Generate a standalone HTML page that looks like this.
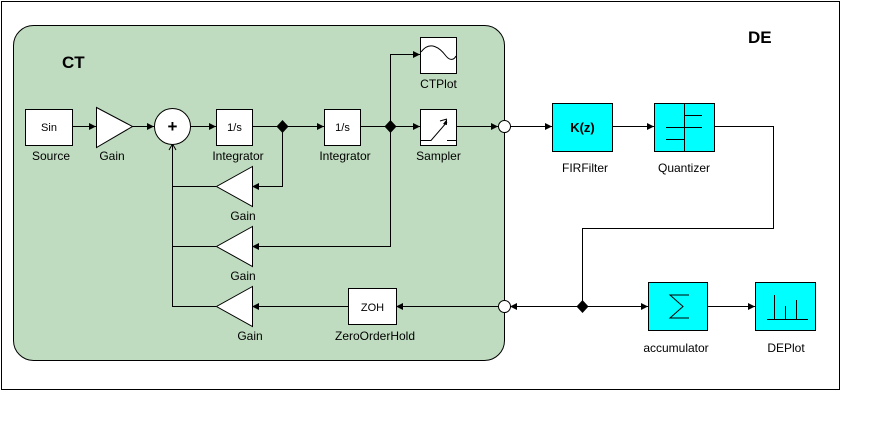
<!DOCTYPE html>
<html><head><style>
html,body{margin:0;padding:0;background:#fff;}
svg{display:block;}
text{font-family:"Liberation Sans",sans-serif;font-size:12px;fill:#000;}
</style></head><body>
<svg width="879" height="432" viewBox="0 0 879 432" xmlns="http://www.w3.org/2000/svg">
<defs>
<marker id="a" markerWidth="8" markerHeight="8" refX="7" refY="4" orient="auto" markerUnits="userSpaceOnUse">
<path d="M0,0.5 L7,4 L0,7.5 z" fill="#000"/></marker>
</defs>
<rect x="1.5" y="1.5" width="838" height="388" fill="#fff" stroke="#000"/>
<rect x="13.5" y="25.5" width="491" height="335" rx="20" fill="#c0dcc0" stroke="#000"/>
<text x="62" y="68" style="font-size:17px;font-weight:bold">CT</text>
<text x="748" y="43" style="font-size:17px;font-weight:bold">DE</text>
<g stroke="#000" fill="none" stroke-width="1">
<!-- main chain -->
<line x1="72" y1="126.5" x2="96" y2="126.5" marker-end="url(#a)"/>
<line x1="132" y1="126.5" x2="154" y2="126.5" marker-end="url(#a)"/>
<line x1="190" y1="126.5" x2="216" y2="126.5" marker-end="url(#a)"/>
<line x1="252" y1="126.5" x2="324" y2="126.5" marker-end="url(#a)"/>
<line x1="360" y1="126.5" x2="420" y2="126.5" marker-end="url(#a)"/>
<line x1="456" y1="126.5" x2="498" y2="126.5" marker-end="url(#a)"/>
<polyline points="390.5,126 390.5,54.5 420,54.5" marker-end="url(#a)"/>
<polyline points="282.5,126 282.5,186.5 252,186.5" marker-end="url(#a)"/>
<polyline points="390.5,126 390.5,246.5 252,246.5" marker-end="url(#a)"/>
<line x1="498" y1="306.5" x2="396" y2="306.5" marker-end="url(#a)"/>
<line x1="348" y1="306.5" x2="252" y2="306.5" marker-end="url(#a)"/>
<polyline points="216,186.5 172.5,186.5"/>
<polyline points="216,246.5 172.5,246.5"/>
<polyline points="216,306.5 172.5,306.5 172.5,144"/>
<path d="M169,150 L172.5,144 L176,150"/>
<!-- DE -->
<line x1="510" y1="126.5" x2="552" y2="126.5" marker-end="url(#a)"/>
<line x1="612" y1="126.5" x2="654" y2="126.5" marker-end="url(#a)"/>
<polyline points="714,126.5 773.5,126.5 773.5,228.5 582.5,228.5 582.5,306"/>
<line x1="582" y1="306.5" x2="510" y2="306.5" marker-end="url(#a)"/>
<line x1="582" y1="306.5" x2="648" y2="306.5" marker-end="url(#a)"/>
<line x1="707" y1="306.5" x2="755" y2="306.5" marker-end="url(#a)"/>
</g>
<g stroke="#000" fill="#fff">
<rect x="25.5" y="109.5" width="47" height="36"/>
<polygon points="96.5,107.5 132.5,126.5 96.5,147.5"/>
<circle cx="172.5" cy="126.5" r="18"/>
<rect x="216.5" y="109.5" width="36" height="36"/>
<rect x="324.5" y="109.5" width="36" height="36"/>
<rect x="420.5" y="109.5" width="36" height="36"/>
<rect x="420.5" y="37.5" width="36" height="36"/>
<polygon points="252.5,166.5 216.5,186.5 252.5,206.5"/>
<polygon points="252.5,226.5 216.5,246.5 252.5,266.5"/>
<polygon points="252.5,286.5 216.5,306.5 252.5,326.5"/>
<rect x="348.5" y="288.5" width="48" height="36"/>
<circle cx="504.5" cy="126.5" r="6"/>
<circle cx="504.5" cy="306.5" r="6"/>
</g>
<g fill="#0ff" stroke="#000">
<rect x="552.5" y="103.5" width="60" height="48"/>
<rect x="654.5" y="103.5" width="60" height="48"/>
<rect x="648.5" y="282.5" width="59" height="48"/>
<rect x="755.5" y="282.5" width="60" height="48"/>
</g>
<g stroke="#000" fill="none">
<path d="M421,52 C430,40 440,48 446,56 C450,61 454,60 456,56"/>
<path d="M421,140.5 H431 L447,122 M447,140.5 H456 M440,121 L447,119"/>
<path d="M684.5,104 V151 M666,139.5 H684 M666,127.5 H702 M684,115.5 H702"/>
<path d="M689,295 H670 L683,306.5 L670,318 H689"/>
<path d="M767,319.5 H808 M774.5,295 V319 M785.5,306 V319 M796.5,300 V319"/>
</g>
<polygon points="282.5,120 288.5,126.5 282.5,133 276.5,126.5" fill="#000"/>
<polygon points="390.5,120 396.5,126.5 390.5,133 384.5,126.5" fill="#000"/>
<polygon points="582.5,300 588.5,306.5 582.5,313 576.5,306.5" fill="#000"/>
<polygon points="443,124 447,119 447,125" fill="#000"/>
<text x="172.5" y="132" text-anchor="middle" style="font-size:17px;font-weight:bold">+</text>
<text x="49" y="131" text-anchor="middle" style="font-size:11px">Sin</text>
<text x="234.5" y="131" text-anchor="middle" style="font-size:11px">1/s</text>
<text x="342.5" y="131" text-anchor="middle" style="font-size:11px">1/s</text>
<text x="372.5" y="311" text-anchor="middle" style="font-size:11px">ZOH</text>
<text x="582.5" y="132" text-anchor="middle" style="font-size:13px;font-weight:bold">K(z)</text>
<text x="51" y="160" text-anchor="middle">Source</text>
<text x="112" y="160" text-anchor="middle">Gain</text>
<text x="238" y="160" text-anchor="middle">Integrator</text>
<text x="345" y="160" text-anchor="middle">Integrator</text>
<text x="438.5" y="160" text-anchor="middle">Sampler</text>
<text x="438.5" y="88" text-anchor="middle">CTPlot</text>
<text x="243" y="220" text-anchor="middle">Gain</text>
<text x="243" y="280" text-anchor="middle">Gain</text>
<text x="250" y="340" text-anchor="middle">Gain</text>
<text x="375" y="340" text-anchor="middle">ZeroOrderHold</text>
<text x="585" y="172" text-anchor="middle">FIRFilter</text>
<text x="684" y="172" text-anchor="middle">Quantizer</text>
<text x="676" y="352" text-anchor="middle">accumulator</text>
<text x="786" y="352" text-anchor="middle">DEPlot</text>
</svg>
</body></html>
